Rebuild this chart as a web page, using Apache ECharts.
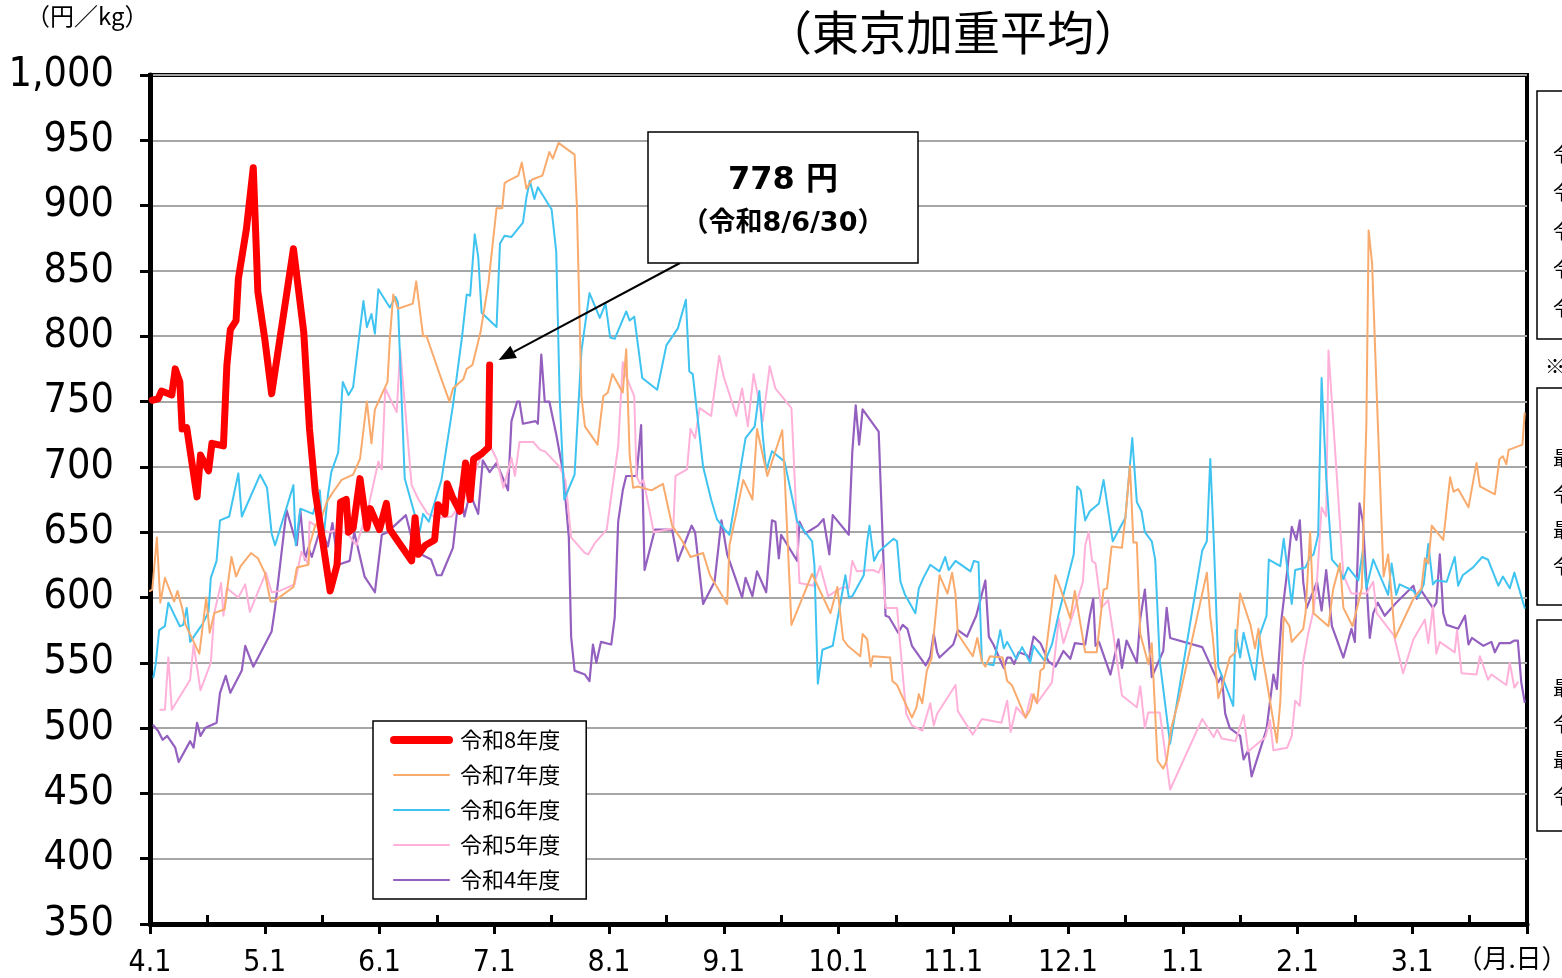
<!DOCTYPE html>
<html><head><meta charset="utf-8">
<script src="https://cdn.jsdelivr.net/npm/echarts@6/dist/echarts.min.js"></script>
<style>html,body{margin:0;padding:0;background:#fff}#c{width:1562px;height:978px}</style>
</head><body><div id="c"></div>
<script>
// x = months elapsed since 4/1 (fiscal year), y = 円/kg
const monthLabels = ['4.1','5.1','6.1','7.1','8.1','9.1','10.1','11.1','12.1','1.1','2.1','3.1',''];
const seriesNames = ['令和8年度','令和7年度','令和6年度','令和5年度','令和4年度'];
const seriesColors = ['#FF0000','#F9AB6E','#3FC3F0','#FFB1DA','#9460BF'];
const annotationValue = 778;
const annotationDate = '令和8/6/30';
const annotationX = 2.96;

const r8 = [[0.02,751],[0.07,752],[0.10,758],[0.19,755],[0.22,775],[0.26,765],[0.28,729],[0.32,730],[0.41,677],[0.44,709],[0.51,697],[0.54,718],[0.64,716],[0.67,778],[0.70,805],[0.75,812],[0.77,844],[0.84,882],[0.90,929],[0.94,834],[1.00,798],[1.06,756],[1.25,867],[1.34,803],[1.39,729],[1.44,681],[1.57,605],[1.63,625],[1.66,673],[1.71,675],[1.73,650],[1.77,653],[1.83,691],[1.89,653],[1.92,668],[2.00,652],[2.06,672],[2.09,652],[2.28,628],[2.31,661],[2.34,633],[2.40,640],[2.48,644],[2.51,671],[2.57,664],[2.59,687],[2.64,676],[2.70,666],[2.75,703],[2.79,675],[2.82,706],[2.89,710],[2.95,715],[2.96,778]];

const r7 = [[0.00,605],[0.02,606],[0.06,646],[0.09,596],[0.13,615],[0.21,597],[0.24,605],[0.28,592],[0.31,579],[0.43,557],[0.49,600],[0.52,573],[0.56,588],[0.65,591],[0.71,631],[0.75,616],[0.79,624],[0.88,634],[0.94,630],[1.00,619],[1.05,597],[1.08,597],[1.25,608],[1.28,623],[1.38,625],[1.39,640],[1.44,655],[1.50,662],[1.54,673],[1.59,680],[1.67,690],[1.77,694],[1.83,706],[1.89,750],[1.93,718],[1.96,744],[2.07,765],[2.09,798],[2.12,832],[2.16,821],[2.29,825],[2.32,842],[2.38,800],[2.41,800],[2.54,767],[2.61,750],[2.64,760],[2.73,767],[2.76,775],[2.81,778],[2.88,803],[2.95,841],[3.02,898],[3.07,898],[3.09,917],[3.12,919],[3.21,923],[3.24,933],[3.28,913],[3.33,920],[3.42,923],[3.48,941],[3.51,936],[3.56,948],[3.70,939],[3.72,900],[3.76,754],[3.79,731],[3.90,717],[3.95,754],[3.99,757],[4.03,771],[4.12,757],[4.15,790],[4.18,709],[4.21,684],[4.25,685],[4.37,682],[4.47,687],[4.55,655],[4.64,643],[4.71,631],[4.82,634],[4.88,617],[4.92,611],[5.03,595],[5.05,640],[5.12,669],[5.17,690],[5.25,675],[5.29,729],[5.38,693],[5.51,728],[5.53,695],[5.59,579],[5.77,618],[5.93,588],[5.99,608],[6.04,568],[6.08,563],[6.19,555],[6.21,572],[6.25,568],[6.28,547],[6.30,555],[6.45,554],[6.47,536],[6.51,533],[6.64,508],[6.68,516],[6.70,526],[6.73,519],[6.77,544],[6.81,553],[6.88,617],[6.93,607],[6.95,603],[6.99,619],[7.02,602],[7.04,572],[7.17,555],[7.21,569],[7.25,551],[7.28,547],[7.32,555],[7.43,554],[7.47,536],[7.51,533],[7.63,508],[7.67,514],[7.70,526],[7.73,519],[7.76,544],[7.79,546],[7.89,617],[7.93,608],[8.02,584],[8.06,605],[8.15,558],[8.25,558],[8.31,606],[8.34,607],[8.38,639],[8.47,638],[8.50,661],[8.54,701],[8.57,642],[8.60,642],[8.63,572],[8.70,549],[8.73,565],[8.78,475],[8.83,469],[8.86,475],[8.90,500],[8.97,523],[9.21,619],[9.24,585],[9.26,571],[9.31,523],[9.34,531],[9.41,554],[9.46,558],[9.50,603],[9.59,579],[9.63,561],[9.66,576],[9.69,557],[9.73,537],[9.82,489],[9.85,520],[9.88,585],[9.93,578],[9.95,566],[10.05,576],[10.07,588],[10.11,650],[10.14,588],[10.27,578],[10.31,606],[10.37,626],[10.40,592],[10.48,578],[10.56,607],[10.60,732],[10.62,881],[10.65,856],[10.69,757],[10.75,616],[10.79,633],[10.85,569],[11.01,599],[11.08,607],[11.11,630],[11.14,626],[11.17,655],[11.27,644],[11.33,692],[11.36,681],[11.40,683],[11.49,669],[11.56,703],[11.59,685],[11.72,679],[11.76,706],[11.79,708],[11.82,702],[11.84,713],[11.96,717],[11.98,741]];

const r6 = [[0.03,539],[0.05,549],[0.08,575],[0.13,578],[0.16,596],[0.26,578],[0.29,579],[0.32,592],[0.35,566],[0.46,580],[0.51,589],[0.53,615],[0.58,628],[0.61,659],[0.69,662],[0.77,695],[0.80,662],[0.96,694],[1.02,684],[1.06,649],[1.09,640],[1.25,686],[1.27,640],[1.31,668],[1.42,664],[1.48,682],[1.51,644],[1.55,678],[1.58,696],[1.64,711],[1.68,765],[1.73,755],[1.77,761],[1.86,827],[1.89,807],[1.93,817],[1.96,802],[1.99,836],[2.09,822],[2.14,830],[2.16,826],[2.22,691],[2.35,650],[2.38,664],[2.43,658],[2.54,690],[2.64,747],[2.72,800],[2.76,832],[2.79,831],[2.83,878],[2.86,861],[2.89,818],[3.02,807],[3.05,871],[3.09,877],[3.15,876],[3.25,887],[3.28,906],[3.31,919],[3.35,905],[3.38,914],[3.50,897],[3.54,865],[3.57,754],[3.61,675],[3.70,694],[3.76,789],[3.83,833],[3.92,814],[3.97,825],[4.01,799],[4.05,798],[4.15,819],[4.18,812],[4.22,815],[4.29,768],[4.42,759],[4.50,793],[4.60,806],[4.67,828],[4.70,773],[4.73,771],[4.82,700],[4.89,675],[4.94,660],[5.01,652],[5.05,648],[5.13,690],[5.19,722],[5.27,731],[5.31,758],[5.34,724],[5.37,697],[5.42,712],[5.53,704],[5.64,658],[5.77,643],[5.79,625],[5.82,534],[5.86,560],[5.95,563],[6.06,617],[6.09,600],[6.12,601],[6.22,617],[6.25,643],[6.27,655],[6.31,628],[6.35,635],[6.48,645],[6.51,643],[6.54,612],[6.58,602],[6.67,588],[6.70,607],[6.74,615],[6.80,625],[6.88,620],[6.93,631],[6.96,621],[7.02,628],[7.15,620],[7.18,628],[7.22,627],[7.25,550],[7.35,548],[7.41,575],[7.44,561],[7.47,566],[7.55,553],[7.60,562],[7.67,550],[7.70,563],[7.80,551],[7.86,564],[7.92,588],[8.05,633],[8.08,685],[8.11,682],[8.15,659],[8.19,666],[8.27,672],[8.31,690],[8.39,643],[8.50,661],[8.56,722],[8.60,673],[8.64,666],[8.67,650],[8.73,643],[8.76,629],[8.80,551],[8.89,488],[9.17,636],[9.21,643],[9.24,706],[9.27,644],[9.31,547],[9.44,517],[9.46,575],[9.50,554],[9.53,573],[9.63,537],[9.67,571],[9.73,586],[9.75,629],[9.85,624],[9.88,645],[9.92,616],[9.95,595],[9.98,621],[10.07,623],[10.11,631],[10.14,633],[10.18,648],[10.21,768],[10.25,692],[10.30,629],[10.36,623],[10.40,614],[10.44,623],[10.53,613],[10.57,636],[10.60,607],[10.66,629],[10.79,602],[10.82,626],[10.86,602],[10.89,610],[11.01,605],[11.05,600],[11.10,610],[11.14,641],[11.18,610],[11.21,613],[11.30,612],[11.37,631],[11.40,609],[11.44,617],[11.53,623],[11.61,631],[11.66,629],[11.75,609],[11.79,616],[11.85,607],[11.89,619],[11.98,592]];

const r5 = [[0.09,514],[0.13,514],[0.16,554],[0.19,514],[0.35,537],[0.38,564],[0.44,529],[0.53,550],[0.56,588],[0.62,611],[0.64,586],[0.67,607],[0.77,600],[0.83,610],[0.87,589],[1.01,619],[1.06,604],[1.13,605],[1.26,610],[1.32,635],[1.38,625],[1.39,658],[1.46,654],[1.55,650],[1.65,652],[1.73,648],[1.80,640],[1.90,668],[1.99,704],[2.02,698],[2.05,760],[2.15,742],[2.18,790],[2.28,686],[2.34,675],[2.42,664],[2.51,661],[2.63,662],[2.74,676],[2.89,709],[2.96,717],[3.02,706],[3.08,684],[3.15,707],[3.18,693],[3.22,719],[3.34,719],[3.40,713],[3.44,712],[3.57,700],[3.62,690],[3.67,646],[3.79,634],[3.82,633],[3.88,642],[3.98,652],[4.02,678],[4.08,716],[4.12,780],[4.15,769],[4.22,754],[4.24,693],[4.27,687],[4.30,690],[4.39,650],[4.56,653],[4.58,693],[4.68,698],[4.71,729],[4.75,722],[4.79,745],[4.89,739],[4.96,785],[5.00,769],[5.11,739],[5.16,760],[5.21,731],[5.26,771],[5.34,735],[5.40,777],[5.45,760],[5.59,745],[5.66,611],[5.78,609],[5.84,624],[5.91,601],[5.98,605],[6.04,608],[6.09,607],[6.12,628],[6.16,620],[6.30,621],[6.35,619],[6.38,626],[6.41,592],[6.51,592],[6.55,551],[6.59,511],[6.64,502],[6.73,498],[6.80,519],[6.83,502],[6.86,511],[7.02,533],[7.04,513],[7.17,495],[7.25,507],[7.42,504],[7.47,521],[7.50,497],[7.55,516],[7.63,508],[7.68,526],[7.73,519],[7.86,535],[7.92,584],[7.96,565],[8.05,589],[8.13,612],[8.15,640],[8.18,650],[8.21,628],[8.24,626],[8.29,592],[8.35,598],[8.39,575],[8.47,525],[8.60,516],[8.63,532],[8.67,500],[8.70,512],[8.80,512],[8.89,453],[9.17,507],[9.27,493],[9.30,499],[9.34,492],[9.46,490],[9.53,510],[9.57,482],[9.72,493],[9.76,506],[9.79,483],[9.91,485],[9.95,494],[9.98,521],[10.02,517],[10.05,551],[10.09,571],[10.14,590],[10.17,613],[10.21,669],[10.25,662],[10.27,789],[10.31,736],[10.40,617],[10.47,603],[10.60,603],[10.66,612],[10.69,588],[10.84,571],[10.92,542],[11.01,568],[11.11,583],[11.14,565],[11.18,593],[11.21,557],[11.24,566],[11.37,558],[11.39,575],[11.43,542],[11.56,541],[11.59,555],[11.66,537],[11.69,541],[11.82,533],[11.85,550],[11.89,531],[11.92,535]];

const r4 = [[0.03,502],[0.07,498],[0.11,491],[0.15,494],[0.22,485],[0.25,474],[0.35,490],[0.38,485],[0.41,504],[0.44,494],[0.48,500],[0.58,504],[0.61,527],[0.66,540],[0.70,527],[0.80,544],[0.83,563],[0.90,547],[1.06,574],[1.09,592],[1.19,667],[1.28,640],[1.31,667],[1.35,629],[1.38,638],[1.41,631],[1.49,654],[1.55,639],[1.59,657],[1.64,625],[1.74,628],[1.78,650],[1.87,616],[1.96,604],[2.02,648],[2.07,650],[2.23,663],[2.31,635],[2.34,634],[2.45,629],[2.50,617],[2.54,617],[2.64,638],[2.70,684],[2.74,662],[2.78,677],[2.81,675],[2.86,664],[2.90,705],[2.96,696],[3.02,703],[3.12,682],[3.15,735],[3.20,750],[3.22,750],[3.25,733],[3.36,735],[3.38,733],[3.41,786],[3.44,750],[3.48,750],[3.54,725],[3.60,696],[3.65,646],[3.67,570],[3.70,544],[3.79,541],[3.83,536],[3.86,564],[3.89,550],[3.93,566],[4.02,564],[4.05,585],[4.08,658],[4.12,682],[4.15,693],[4.24,693],[4.28,732],[4.31,621],[4.40,652],[4.55,652],[4.60,628],[4.72,655],[4.75,650],[4.82,595],[4.92,612],[4.98,659],[5.03,633],[5.16,600],[5.19,615],[5.25,601],[5.29,620],[5.37,604],[5.42,659],[5.45,658],[5.48,630],[5.50,648],[5.64,628],[5.66,658],[5.71,649],[5.82,655],[5.87,660],[5.92,633],[5.95,663],[6.09,648],[6.12,711],[6.15,747],[6.18,717],[6.21,744],[6.35,727],[6.41,586],[6.44,585],[6.52,573],[6.56,579],[6.60,576],[6.64,563],[6.76,548],[6.80,555],[6.83,572],[6.86,558],[6.88,554],[6.94,559],[7.00,564],[7.04,575],[7.12,570],[7.20,586],[7.28,613],[7.31,570],[7.35,564],[7.44,546],[7.47,554],[7.50,554],[7.53,549],[7.57,558],[7.64,556],[7.66,553],[7.70,570],[7.76,565],[7.83,551],[7.89,547],[7.96,559],[8.02,553],[8.06,565],[8.15,564],[8.19,586],[8.22,599],[8.24,563],[8.27,566],[8.37,541],[8.44,568],[8.47,546],[8.51,567],[8.60,550],[8.63,584],[8.67,606],[8.73,539],[8.83,559],[8.86,592],[8.89,569],[9.17,562],[9.31,535],[9.34,540],[9.37,511],[9.41,500],[9.50,494],[9.53,476],[9.57,483],[9.60,463],[9.73,499],[9.79,541],[9.82,530],[9.86,583],[9.91,620],[9.95,654],[9.99,644],[10.02,659],[10.05,612],[10.08,592],[10.17,612],[10.21,590],[10.25,621],[10.30,578],[10.40,554],[10.47,576],[10.50,566],[10.54,672],[10.57,658],[10.63,569],[10.66,588],[10.70,596],[10.76,586],[10.86,596],[11.01,609],[11.04,599],[11.08,605],[11.18,592],[11.21,596],[11.24,633],[11.27,588],[11.30,579],[11.40,576],[11.46,586],[11.49,564],[11.52,569],[11.62,563],[11.69,566],[11.72,558],[11.76,565],[11.85,565],[11.89,567],[11.92,567],[11.95,535],[11.98,520]];

const seriesData = [r8, r7, r6, r5, r4];
const seriesWidths = [7, 2, 2, 2, 2.2];
const legendWidths = [8, 2, 2, 2, 2.2];

const chart = echarts.init(document.getElementById('c'), null, {renderer: 'canvas'});
const numFont = "'Liberation Sans Narrow','DejaVu Sans Condensed','Liberation Sans',sans-serif";
const jpFont = "'Noto Sans CJK JP','Noto Sans CJK SC',sans-serif";
const annFont = "'DejaVu Sans','Noto Sans CJK JP',sans-serif";

const series = [];
for (let i = seriesNames.length - 1; i >= 0; i--) {
  series.push({
    name: seriesNames[i], type: 'line', data: seriesData[i],
    xAxisIndex: 0, yAxisIndex: 0,
    showSymbol: false, symbol: 'none', smooth: false, animation: false,
    color: seriesColors[i],
    lineStyle: {color: seriesColors[i], width: seriesWidths[i], cap: 'round', join: 'round'},
    z: 10 - i
  });
}

chart.setOption({
  animation: false,
  backgroundColor: '#fff',
  grid: {left: 150, right: 35, top: 75, bottom: 51, show: true, borderColor: '#000', borderWidth: 4, backgroundColor: 'transparent'},
  xAxis: [{
    type: 'value', min: 0, max: 12, interval: 1,
    axisLine: {show: true, onZero: false, lineStyle: {color: '#000', width: 5}},
    axisTick: {show: true, length: 10, lineStyle: {color: '#000', width: 3}},
    axisLabel: {show: true, margin: 24, fontSize: 30, color: '#000', fontFamily: numFont,
      formatter: v => monthLabels[Math.round(v)] || ''},
    splitLine: {show: false}
  }, {
    type: 'category', position: 'bottom', boundaryGap: false,
    data: Array.from({length: 25}, (_, i) => String(i)),
    axisLine: {show: false},
    axisTick: {show: true, inside: true, length: 9, lineStyle: {color: '#000', width: 3}, interval: (i) => i % 2 === 1},
    axisLabel: {show: false}, splitLine: {show: false}
  }],
  yAxis: {
    type: 'value', min: 350, max: 1000, interval: 50,
    axisLine: {show: true, lineStyle: {color: '#000', width: 5}},
    axisTick: {show: true, length: 10, lineStyle: {color: '#000', width: 3}},
    axisLabel: {margin: 36, fontSize: 41, color: '#000', fontFamily: numFont, padding: [6, 0, 0, 0],
      formatter: v => v.toLocaleString('en-US')},
    splitLine: {show: true, lineStyle: {color: '#A6A6A6', width: 2}}
  },
  legend: {
    data: seriesNames.map((n, i) => ({name: n, lineStyle: {width: legendWidths[i], color: seriesColors[i], cap: 'round'}})),
    orient: 'vertical', left: 373, top: 721,
    padding: [8, 26, 8, 17], itemGap: 13, itemWidth: 55, itemHeight: 14,
    borderColor: '#000', borderWidth: 1.5, backgroundColor: '#fff',
    itemStyle: {opacity: 0, borderWidth: 0},
    textStyle: {fontSize: 22, color: '#000', fontFamily: jpFont, lineHeight: 22, padding: [0, 0, 0, 6]},
    selectedMode: false, z: 20
  },
  series: series
});

const tip = chart.convertToPixel({xAxisIndex: 0, yAxisIndex: 0}, [annotationX, annotationValue]);
const tipX = tip[0] + 9, tipY = tip[1] - 5;
const startX = 680, startY = 263;
const ang = Math.atan2(tipY - startY, tipX - startX);
const hl = 17, hw = 7;
const bx = tipX - hl * Math.cos(ang), by = tipY - hl * Math.sin(ang);
const px = -Math.sin(ang) * hw, py = Math.cos(ang) * hw;

function sideText(y, t) {
  return {type: 'text', x: 1553, y: y, z: 31, style: {text: t, fontSize: 20, fill: '#000', fontFamily: jpFont, verticalAlign: 'middle'}};
}

chart.setOption({
  graphic: [
    {type: 'text', left: 26, top: 4, style: {text: '（円／kg）', fontSize: 24, fill: '#000', fontFamily: jpFont}},
    {type: 'text', x: 953, y: 32, style: {text: '（東京加重平均）', fontSize: 47, fill: '#000', fontFamily: jpFont, align: 'center', verticalAlign: 'middle'}},
    {type: 'text', x: 1512, y: 958, style: {text: '（月.日）', fontSize: 26, fill: '#000', fontFamily: jpFont, align: 'center', verticalAlign: 'middle'}},
    {type: 'line', shape: {x1: startX, y1: startY, x2: bx, y2: by}, style: {stroke: '#000', lineWidth: 2}, z: 30},
    {type: 'polygon', shape: {points: [[tipX, tipY], [bx + px, by + py], [bx - px, by - py]]}, style: {fill: '#000'}, z: 30},
    {type: 'rect', shape: {x: 648, y: 132, width: 270, height: 131}, style: {fill: '#fff', stroke: '#000', lineWidth: 1.5}, z: 30},
    {type: 'text', x: 783, y: 181, z: 31, style: {text: annotationValue + ' 円', fontSize: 32, fontWeight: 'bold', fill: '#000', fontFamily: annFont, align: 'center', verticalAlign: 'middle'}},
    {type: 'text', x: 783, y: 224, z: 31, style: {text: '（' + annotationDate + '）', fontSize: 27, fontWeight: 'bold', fill: '#000', fontFamily: annFont, align: 'center', verticalAlign: 'middle'}},
    {type: 'rect', shape: {x: 1537, y: 91, width: 100, height: 248}, style: {fill: '#fff', stroke: '#000', lineWidth: 1.5}, z: 30},
    sideText(154, '令和8年度'), sideText(192, '令和7年度'), sideText(231, '令和6年度'), sideText(269, '令和5年度'), sideText(308, '令和4年度'),
    {type: 'text', x: 1545, y: 366, z: 31, style: {text: '※', fontSize: 20, fill: '#000', fontFamily: jpFont, verticalAlign: 'middle'}},
    {type: 'rect', shape: {x: 1537, y: 388, width: 100, height: 217}, style: {fill: '#fff', stroke: '#000', lineWidth: 1.5}, z: 30},
    sideText(458, '最高値'), sideText(494, '令和'), sideText(530, '最安値'), sideText(566, '令和'),
    {type: 'rect', shape: {x: 1537, y: 620, width: 100, height: 211}, style: {fill: '#fff', stroke: '#000', lineWidth: 1.5}, z: 30},
    sideText(688, '最高値'), sideText(724, '令和'), sideText(760, '最安値'), sideText(796, '令和')
  ]
});
</script>
</body></html>
